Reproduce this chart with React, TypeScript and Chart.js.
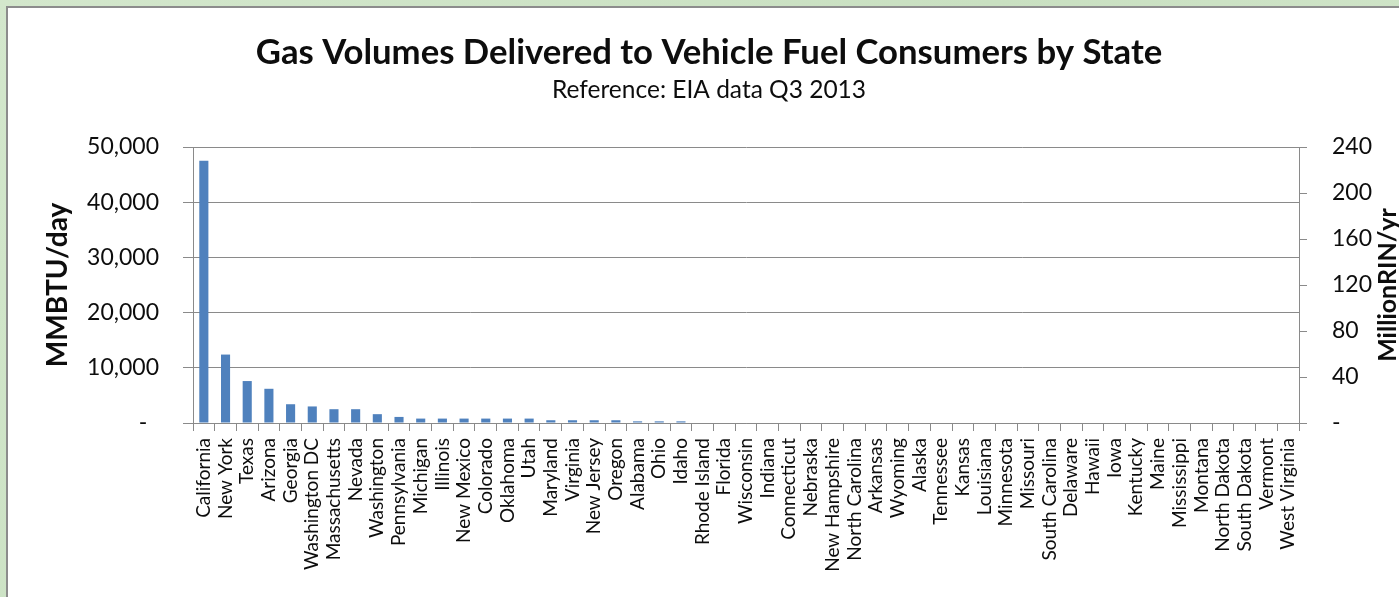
import React, { useEffect, useRef } from 'react';
import { Chart, registerables } from 'chart.js';

Chart.register(...registerables);

const titleText = 'Gas Volumes Delivered to Vehicle Fuel Consumers by State';
const subtitleText = 'Reference: EIA data Q3 2013';
const leftAxisTitle = 'MMBTU/day';
const rightAxisTitle = 'MillionRIN/yr';

const states = [
  'California', 'New York', 'Texas', 'Arizona', 'Georgia', 'Washington DC', 'Massachusetts',
  'Nevada', 'Washington', 'Pennsylvania', 'Michigan', 'Illinois', 'New Mexico', 'Colorado',
  'Oklahoma', 'Utah', 'Maryland', 'Virginia', 'New Jersey', 'Oregon', 'Alabama', 'Ohio', 'Idaho',
  'Rhode Island', 'Florida', 'Wisconsin', 'Indiana', 'Connecticut', 'Nebraska', 'New Hampshire',
  'North Carolina', 'Arkansas', 'Wyoming', 'Alaska', 'Tennessee', 'Kansas', 'Louisiana',
  'Minnesota', 'Missouri', 'South Carolina', 'Delaware', 'Hawaii', 'Iowa', 'Kentucky', 'Maine',
  'Mississippi', 'Montana', 'North Dakota', 'South Dakota', 'Vermont', 'West Virginia',
];

const mmbtuPerDay = [
  47500, 12400, 7600, 6200, 3400, 3000, 2500,
  2500, 1600, 1100, 800, 800, 800, 800,
  800, 800, 500, 500, 500, 500, 300, 300, 300,
  0, 0, 0, 0, 0, 0, 0,
  0, 0, 0, 0, 0, 0, 0,
  0, 0, 0, 0, 0, 0, 0, 0,
  0, 0, 0, 0, 0, 0,
];

const leftTickLabels = ['-  ', '10,000', '20,000', '30,000', '40,000', '50,000'];
const rightTickLabels = ['-', '40', '80', '120', '160', '200', '240'];

const FONT = 'Lato';
const GRID = '#8a8a8a';
const TEXT = '#0d0d0d';

export default function App() {
  const ref = useRef<HTMLCanvasElement>(null);

  useEffect(() => {
    document.body.style.margin = '0';
    const rightTitlePlugin = {
      id: 'rightTitle',
      afterDraw(chart: any) {
        const ctx = chart.ctx;
        ctx.save();
        ctx.translate(1380, 277);
        ctx.rotate(-Math.PI / 2);
        ctx.textAlign = 'center';
        ctx.textBaseline = 'middle';
        ctx.fillStyle = TEXT;
        ctx.font = `bold 25px ${FONT}`;
        ctx.fillText(rightAxisTitle, 0, 0);
        ctx.restore();
      },
    };

    const chart = new Chart(ref.current!, {
      type: 'bar',
      data: {
        labels: states,
        datasets: [
          {
            data: mmbtuPerDay,
            backgroundColor: '#4F81BD',
            borderWidth: 0,
            barPercentage: 0.42,
            categoryPercentage: 1,
            yAxisID: 'y',
          },
        ],
      },
      options: {
        responsive: false,
        animation: false,
        layout: { padding: 0 },
        plugins: {
          legend: { display: false },
          tooltip: { enabled: false },
          title: {
            display: true,
            text: titleText,
            color: TEXT,
            font: { family: FONT, size: 34.7, weight: 'bold' },
            padding: { top: 23.7, bottom: 0 },
          },
          subtitle: {
            display: true,
            text: subtitleText,
            color: TEXT,
            font: { family: FONT, size: 24.5, weight: 'normal' },
            padding: { top: 2, bottom: 42.3 },
          },
        },
        scales: {
          x: {
            grid: { offset: true, drawOnChartArea: false, tickLength: 8, color: GRID },
            border: { color: GRID },
            ticks: {
              autoSkip: false,
              maxRotation: 90,
              minRotation: 90,
              padding: 7,
              color: TEXT,
              font: { family: FONT, size: 19 },
            },
            afterFit: (s: any) => {
              s.height = 174;
            },
          },
          y: {
            position: 'left',
            min: 0,
            max: 50000,
            ticks: {
              stepSize: 10000,
              padding: 24,
              color: TEXT,
              font: { family: FONT, size: 23 },
              callback: (_v: any, i: number) => leftTickLabels[i],
            },
            grid: { color: GRID, tickLength: 10 },
            border: { color: GRID },
            title: {
              display: true,
              text: leftAxisTitle,
              color: TEXT,
              font: { family: FONT, size: 28, weight: 'bold' },
              padding: { top: 33, bottom: 0 },
            },
            afterFit: (s: any) => {
              s.width = 185;
            },
          },
          y2: {
            position: 'right',
            min: 0,
            max: 240,
            ticks: {
              stepSize: 40,
              padding: 25,
              color: TEXT,
              font: { family: FONT, size: 23 },
              callback: (_v: any, i: number) => rightTickLabels[i],
            },
            grid: { drawOnChartArea: false, tickLength: 8, color: GRID },
            border: { color: GRID },
            afterFit: (s: any) => {
              s.width = 111;
            },
          },
        },
      },
      plugins: [rightTitlePlugin],
    } as any);

    return () => chart.destroy();
  }, []);

  return (
    <div
      style={{
        position: 'fixed',
        left: 0,
        top: 0,
        width: 1399,
        height: 597,
        overflow: 'hidden',
        background: 'linear-gradient(135deg, #d3e7cc 0%, #c9e0c1 50%, #d6e9cf 100%)',
      }}
    >
      <div
        style={{
          position: 'absolute',
          left: 6,
          top: 6,
          width: 1402,
          height: 600,
          border: '2px solid #8c8c8c',
          background: '#ffffff',
        }}
      >
        <canvas ref={ref} width={1402} height={589} style={{ display: 'block', width: 1402, height: 589 }} />
      </div>
    </div>
  );
}
